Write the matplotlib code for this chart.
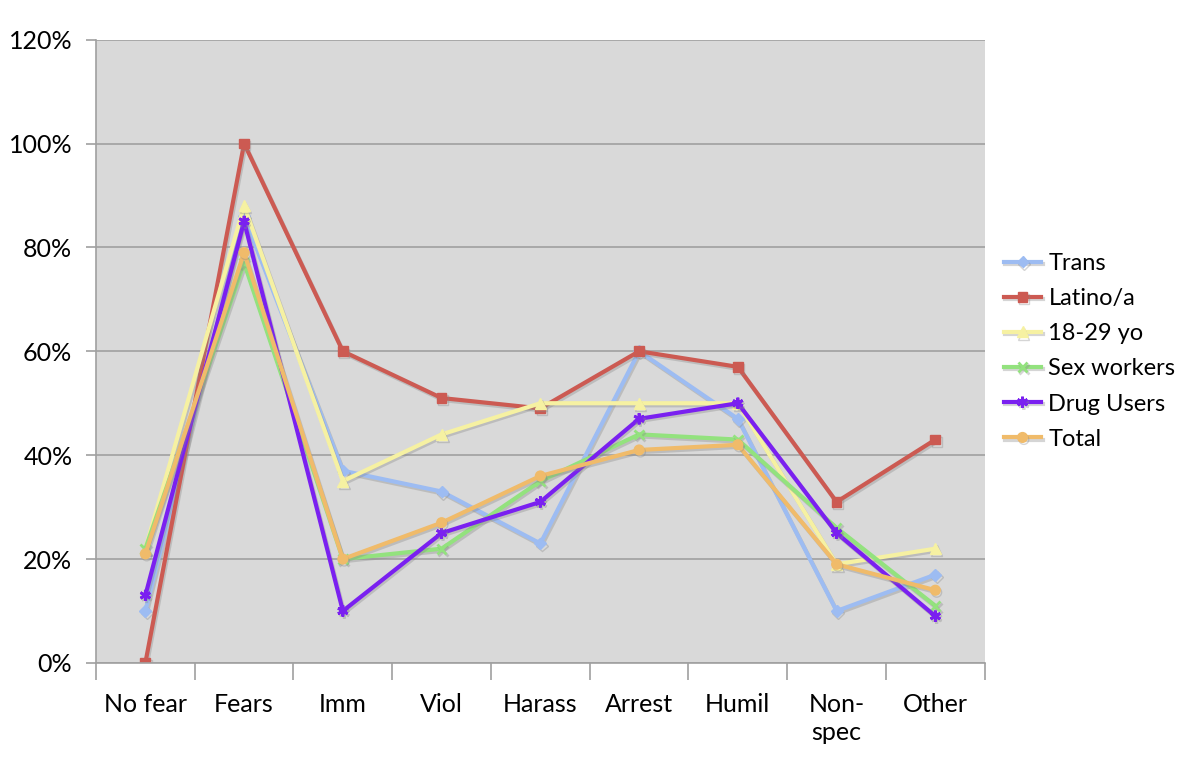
import numpy as np
import matplotlib.pyplot as plt
from matplotlib.ticker import PercentFormatter
import matplotlib.patheffects as pe

plt.rcParams['font.family'] = ['Lato', 'DejaVu Sans']

categories = ['No fear', 'Fears', 'Imm', 'Viol', 'Harass', 'Arrest', 'Humil', 'Non-\nspec', 'Other']

trans = [10, 86, 37, 33, 23, 60, 47, 10, 17]
latino = [0, 100, 60, 51, 49, 60, 57, 31, 43]
young = [22, 88, 35, 44, 50, 50, 50, 19, 22]
sex_workers = [22, 77, 20, 22, 35, 44, 43, 26, 11]
drug_users = [13, 85, 10, 25, 31, 47, 50, 25, 9]
total = [21, 79, 20, 27, 36, 41, 42, 19, 14]

series = [
    ('Trans', trans, '#9dbcf2', 'D', 6),
    ('Latino/a', latino, '#cc5a52', 's', 7),
    ('18-29 yo', young, '#f6f1a2', '^', 8),
    ('Sex workers', sex_workers, '#93e27e', 'x', 7),
    ('Drug Users', drug_users, '#7a20f0', (6, 2, 0), 8),
    ('Total', total, '#f0bb6a', 'o', 7),
]

fig = plt.figure(figsize=(11.85, 7.62), dpi=100)
ax = fig.add_axes([0.081, 0.13, 0.75, 0.818])
ax.set_facecolor('#d9d9d9')

x = np.arange(len(categories))
shadow = [pe.SimpleLineShadow(offset=(1, -1.5), shadow_color='#888888', alpha=0.35), pe.Normal()]
for name, vals, color, marker, ms in series:
    ax.plot(x, np.array(vals) / 100, color=color, lw=3, marker=marker, ms=ms,
            mew=2 if marker in ('x', (6, 2, 0)) else 1, mec=color, label=name,
            path_effects=shadow)

ax.set_xlim(-0.5, len(categories) - 0.5)
ax.set_ylim(0, 1.2)
ax.set_yticks(np.arange(0, 1.21, 0.2))
ax.yaxis.set_major_formatter(PercentFormatter(1.0, decimals=0))
ax.grid(axis='y', color='#a0a0a0', lw=1.2)
ax.set_axisbelow(True)

ax.set_xticks(x)
ax.set_xticklabels(categories, fontsize=18, linespacing=1.25)
ax.set_xticks(np.arange(-0.5, len(categories), 1), minor=True)
ax.tick_params(axis='x', which='major', length=0, pad=22)
ax.tick_params(axis='x', which='minor', length=12, color='#a0a0a0', width=1.2)
ax.tick_params(axis='y', length=7, color='#a0a0a0', width=1.2, labelsize=18, pad=10)

for s in ['top', 'right']:
    ax.spines[s].set_visible(False)
for s in ['left', 'bottom']:
    ax.spines[s].set_color('#a0a0a0')
    ax.spines[s].set_linewidth(1.2)

ax.legend(loc='center left', bbox_to_anchor=(1.0, 0.5), frameon=False, fontsize=17,
          handlelength=1.6, handletextpad=0.3, labelspacing=0.6, borderaxespad=0.4)

fig.savefig('out.png', dpi=100)
